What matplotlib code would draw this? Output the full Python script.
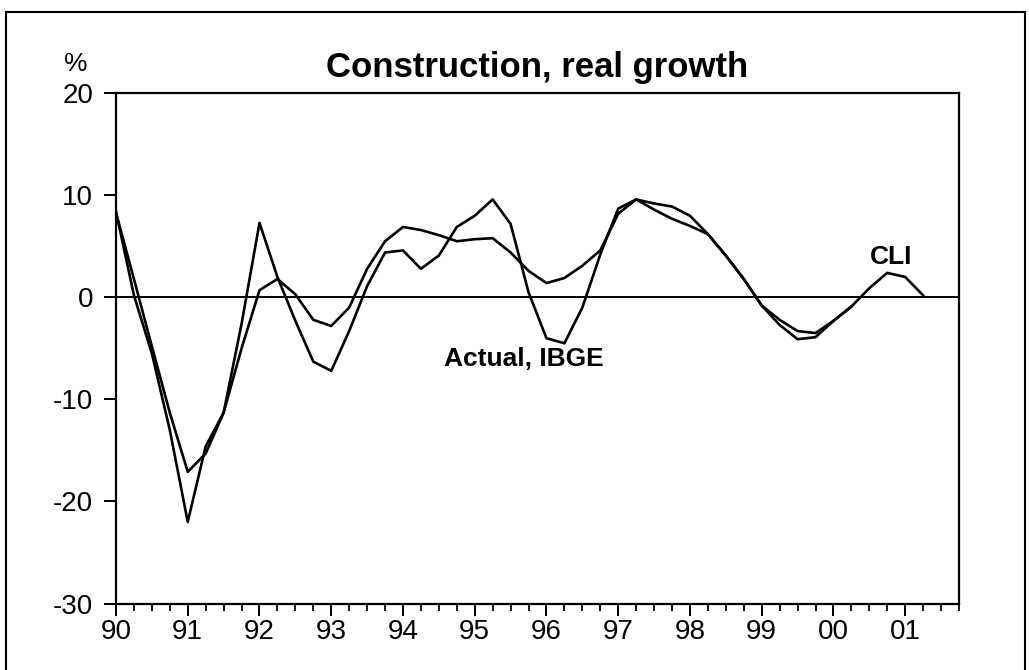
import matplotlib
matplotlib.use("Agg")
import matplotlib.pyplot as plt
import numpy as np
from matplotlib.lines import Line2D
from matplotlib.ticker import FixedLocator, MultipleLocator

plt.rcParams['font.family'] = ['Liberation Sans', 'DejaVu Sans']
plt.rcParams['axes.unicode_minus'] = False

# quarterly data, first point = 1990 Q1
actual = [8.4, 0.2, -5.5, -13.0, -22.0, -14.6, -11.3, -2.6,
          7.3, 2.0, -2.3, -6.3, -7.2, -3.3, 1.1, 4.4,
          4.6, 2.8, 4.1, 6.9, 8.0, 9.6, 7.2, 0.5,
          -4.0, -4.5, -1.0, 4.2, 8.7, 9.6, 8.6, 7.7,
          7.0, 6.2, 4.1, 1.8, -0.8, -2.7, -4.1, -3.9,
          -2.3, -0.9]
cli = [8.3, 1.8, -4.8, -11.3, -17.1, -15.3, -11.3, -5.0,
       0.7, 1.8, 0.3, -2.2, -2.8, -1.0, 2.8, 5.5,
       6.9, 6.6, 6.1, 5.5, 5.7, 5.8, 4.4, 2.6,
       1.4, 1.9, 3.1, 4.6, 8.2, 9.6, 9.2, 8.9,
       8.0, 6.2, 4.1, 1.8, -0.8, -2.2, -3.3, -3.5,
       -2.3, -0.9, 0.9, 2.4, 2.0, 0.2]
years = list(range(1990, 2002))
year_labels = ['90', '91', '92', '93', '94', '95', '96', '97', '98', '99', '00', '01']
y_ticks = [-30, -20, -10, 0, 10, 20]
y_labels = ['-30', '-20', '-10', '0', '10', '20']

x_actual = 1990 + np.arange(len(actual)) / 4.0
x_cli = 1990 + np.arange(len(cli)) / 4.0

W, H = 1029, 670
fig = plt.figure(figsize=(W / 100, H / 100), dpi=100)
ax = fig.add_axes([116 / W, 1 - 603.5 / H, (959 - 116) / W, (603.5 - 93.3) / H])

ax.axhline(0, color='black', lw=1.4, zorder=1)
ax.plot(x_actual, actual, color='black', lw=1.9, zorder=2)
ax.plot(x_cli, cli, color='black', lw=1.9, zorder=2)

ax.set_xlim(1990, 2001.75)
ax.set_ylim(-30, 20)

ax.xaxis.set_major_locator(FixedLocator(years))
ax.set_xticklabels(year_labels)
ax.xaxis.set_minor_locator(MultipleLocator(0.25))
ax.set_yticks(y_ticks)
ax.set_yticklabels(y_labels)

ax.tick_params(axis='x', which='major', direction='out', length=8.5, width=1.4,
               labelsize=20, pad=3)
ax.tick_params(axis='x', which='minor', direction='out', length=5, width=1.3)
ax.tick_params(axis='y', which='major', direction='out', length=8.5, width=1.4,
               labelsize=20, pad=8)
for s in ax.spines.values():
    s.set_linewidth(1.6)

# title and labels
ax.set_title('Construction, real growth', fontsize=25, fontweight='bold', pad=12)
fig.text(76 / W, 1 - 76 / H, '%', fontsize=19, ha='center', va='bottom')
ax.text(1995.68, -6.0, 'Actual, IBGE', fontsize=19, fontweight='bold',
        ha='center', va='center')
ax.text(2000.8, 4.0, 'CLI', fontsize=19, fontweight='bold', ha='center', va='center')

# frame round the whole page
fig.add_artist(Line2D([6 / W, 6 / W], [0, 1 - 12 / H], color='black', lw=1.5))
fig.add_artist(Line2D([6 / W, 1025 / W], [1 - 12 / H, 1 - 12 / H], color='black', lw=1.5))
fig.add_artist(Line2D([1025 / W, 1025 / W], [0, 1 - 12 / H], color='black', lw=1.5))

fig.savefig('out.png', dpi=100)
